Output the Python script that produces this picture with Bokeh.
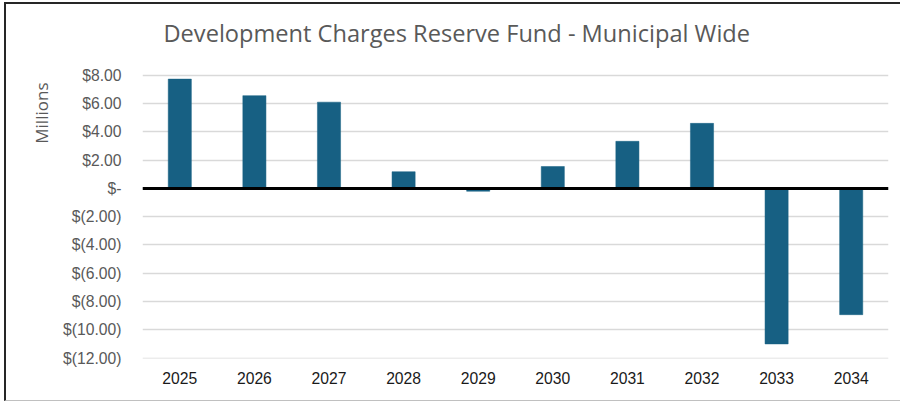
from bokeh.plotting import figure
from bokeh.models import FactorRange, Range1d, FixedTicker, Span, Title
from bokeh.embed import file_html
from bokeh.resources import INLINE

# ---- data ----
years = ["2025", "2026", "2027", "2028", "2029",
         "2030", "2031", "2032", "2033", "2034"]
balances = [7.73, 6.56, 6.10, 1.18, -0.20, 1.55, 3.33, 4.60, -11.00, -8.93]  # $ millions
y_ticks = [-12, -10, -8, -6, -4, -2, 0, 2, 4, 6, 8]
y_tick_labels = ["$(12.00)", "$(10.00)", "$(8.00)", "$(6.00)", "$(4.00)",
                 "$(2.00)", "$-", "$2.00", "$4.00", "$6.00", "$8.00"]
title_text = "Development Charges Reserve Fund - Municipal Wide"
y_title = "Millions"

W, H = 896, 399
p = figure(width=W, height=H, x_range=FactorRange(*years),
           y_range=Range1d(-12.03, 9.40),
           output_backend="svg", toolbar_location=None,
           min_border_left=136, min_border_right=14,
           min_border_top=51, min_border_bottom=45)
p.outline_line_color = None
p.background_fill_color = "white"
p.border_fill_color = "white"
p.styles = {"margin-left": "4px", "margin-top": "2px",
            "border-top": "2px solid #262626",
            "border-left": "2px solid #262626",
            "border-bottom": "1px solid #c0c0c0",
            "box-sizing": "border-box"}

p.vbar(x=years, top=balances, bottom=0, width=0.31,
       fill_color="#176083", line_color="#176083", line_width=0.5)

p.add_layout(Span(location=0, dimension="width", line_color="black",
                  line_width=3))

# y axis
p.yaxis.ticker = FixedTicker(ticks=y_ticks)
p.yaxis.major_label_overrides = dict(zip(y_ticks, y_tick_labels))
p.yaxis.axis_line_color = None
p.yaxis.major_tick_line_color = None
p.yaxis.minor_tick_line_color = None
p.yaxis.major_label_standoff = 15
p.yaxis.major_label_text_font = "Liberation Sans"
p.yaxis.major_label_text_font_size = "15.7px"
p.yaxis.major_label_text_color = "#595959"

# x axis
p.xaxis.axis_line_color = None
p.xaxis.major_tick_line_color = None
p.xaxis.minor_tick_line_color = None
p.xaxis.major_label_standoff = 7
p.xaxis.major_label_text_font = "Liberation Sans"
p.xaxis.major_label_text_font_size = "15.7px"
p.xaxis.major_label_text_color = "#1a1a1a"

p.xgrid.grid_line_color = None
p.ygrid.grid_line_color = "#d9d9d9"
p.ygrid.grid_line_width = 1.5

# chart title
p.add_layout(Title(text=title_text, align="left", offset=21, standoff=14,
                   text_font="Open Sans", text_font_size="23.6px",
                   text_font_style="normal", text_color="#595959"), "above")
# value-axis title
p.add_layout(Title(text=y_title, align="right", offset=27, standoff=16,
                   text_font="Open Sans", text_font_size="17px",
                   text_font_style="normal", text_color="#595959"), "left")

open("out.html", "w").write(file_html(p, INLINE))
